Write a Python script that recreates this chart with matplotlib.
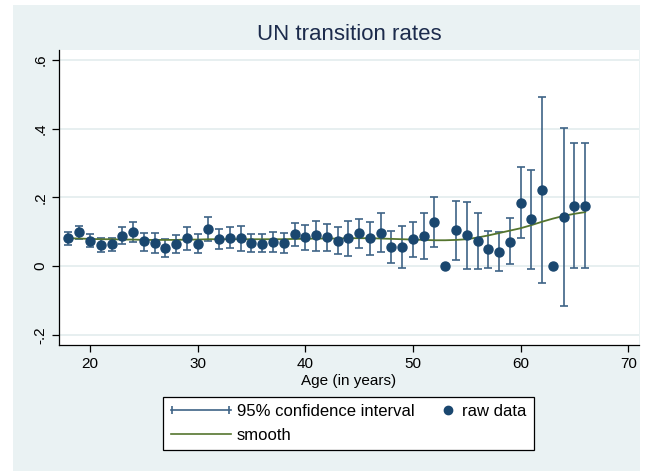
import numpy as np
import matplotlib
matplotlib.use("Agg")
import matplotlib.pyplot as plt
from matplotlib.lines import Line2D
from matplotlib.patches import Rectangle
from matplotlib.legend_handler import HandlerBase

plt.rcParams['font.family'] = ['Liberation Sans', 'DejaVu Sans']

# transition rates by age, with 95% CI and smoothed curve
ages = list(range(18, 67))
rate = [.081, .098, .074, .062, .063, .088, .099, .072, .068, .053,
        .063, .081, .065, .108, .079, .083, .083, .067, .065, .069,
        .066, .092, .084, .090, .084, .074, .081, .095, .081, .097,
        .054, .056, .078, .087, .127, 0.0, .104, .090, .074, .049,
        .042, .071, .184, .136, .221, 0.0, .142, .176, .176]
ci_low = [.061, .080, .054, .042, .044, .063, .071, .045, .039, .027,
          .039, .047, .037, .073, .049, .051, .045, .040, .040, .042,
          .037, .059, .047, .045, .044, .035, .030, .053, .033, .041,
          .010, -.006, .025, .020, .054, np.nan, .017, -.008, -.008, -.005,
          -.015, .005, .082, -.008, -.049, np.nan, -.116, -.005, -.005]
ci_high = [.100, .117, .093, .082, .081, .114, .127, .097, .097, .078,
           .089, .114, .092, .144, .107, .113, .117, .093, .092, .098,
           .095, .124, .119, .132, .122, .113, .131, .137, .129, .153,
           .101, .117, .127, .153, .202, np.nan, .190, .187, .155, .103,
           .100, .139, .287, .279, .493, np.nan, .401, .357, .357]
smooth = [.081, .080, .079, .078, .078, .077, .077, .076, .076, .076,
          .076, .077, .077, .078, .078, .078, .078, .078, .078, .078,
          .078, .079, .079, .080, .080, .080, .081, .081, .081, .080,
          .079, .078, .077, .076, .075, .075, .076, .078, .083, .089,
          .096, .103, .110, .119, .129, .138, .146, .152, .157]

navy = "#1A476F"
ci_col = "#3E6386"
green = "#55752F"
bg = "#EAF2F3"

ages = np.array(ages)
rate = np.array(rate)
ci_low = np.array(ci_low)
ci_high = np.array(ci_high)
ok = ~np.isnan(ci_low)


class CapHandler(HandlerBase):
    def create_artists(self, legend, orig, xd, yd, w, h, fs, trans):
        y = (h - yd) / 2
        ln = Line2D([-xd, -xd + w], [y, y], color=ci_col, lw=1.2, transform=trans)
        caps = Line2D([-xd + 1, -xd + w - 1], [y, y], ls='none', marker='|',
                      ms=6, mew=1.2, color=ci_col, transform=trans)
        return [ln, caps]


class DotHandler(HandlerBase):
    def create_artists(self, legend, orig, xd, yd, w, h, fs, trans):
        y = (h - yd) / 2
        dot = Line2D([-xd + w - 6], [y], ls='none', marker='o', ms=6,
                     color=navy, transform=trans)
        return [dot]


fig = plt.figure(figsize=(6.52, 4.71), dpi=100)
fig.patch.set_facecolor("white")
fig.patches.append(Rectangle((13 / 652, 0), 627 / 652, 466 / 471,
                             transform=fig.transFigure, facecolor=bg,
                             edgecolor='none', zorder=-10))

ax = fig.add_axes([59 / 652, 1 - 345 / 471, 580 / 652, 295 / 471])
ax.set_facecolor("white")

ax.errorbar(ages[ok], rate[ok],
            yerr=[rate[ok] - ci_low[ok], ci_high[ok] - rate[ok]],
            fmt='none', ecolor=ci_col, elinewidth=1.2, capsize=3,
            capthick=1.2, zorder=2)
ax.plot(ages, smooth, color=green, lw=1.3, zorder=3)
ax.plot(ages, rate, ls='none', marker='o', ms=6.5, color=navy, zorder=4)

ax.set_xlim(17.12, 71.0)
ax.set_ylim(-0.230, 0.629)
ax.set_xticks([20, 30, 40, 50, 60, 70])
ax.set_yticks([-0.2, 0, 0.2, 0.4, 0.6])
ax.set_yticklabels(["-.2", "0", ".2", ".4", ".6"], rotation=90, va='center')
ax.tick_params(labelsize=11, length=5, width=0.9, colors='black')
ax.grid(axis='y', color="#E3ECEE", lw=1.2)
ax.set_axisbelow(True)
for s in ['top', 'right']:
    ax.spines[s].set_visible(False)
for s in ['left', 'bottom']:
    ax.spines[s].set_linewidth(0.9)
ax.set_xlabel("Age (in years)", fontsize=11, labelpad=2)
ax.set_title("UN transition rates", fontsize=16, color="#1C2B4C", pad=7)

h_ci = Rectangle((0, 0), 1, 1)
h_sm = Line2D([], [], color=green, lw=1.2)
h_dot = Line2D([], [], ls='none', marker='o')
leg = fig.legend([h_ci, h_sm, h_dot],
                 ["95% confidence interval", "smooth", "raw data"],
                 handler_map={h_ci: CapHandler(), h_dot: DotHandler()},
                 ncol=2, loc='center', bbox_to_anchor=(0.5345, 0.101),
                 fontsize=12, handlelength=3.6, handletextpad=0.35,
                 columnspacing=-1.1, labelspacing=0.5, borderpad=0.45,
                 frameon=True, fancybox=False, edgecolor='black',
                 facecolor='white', framealpha=1)
leg.get_frame().set_linewidth(0.9)

fig.savefig("out.png", dpi=100, facecolor=fig.get_facecolor())
